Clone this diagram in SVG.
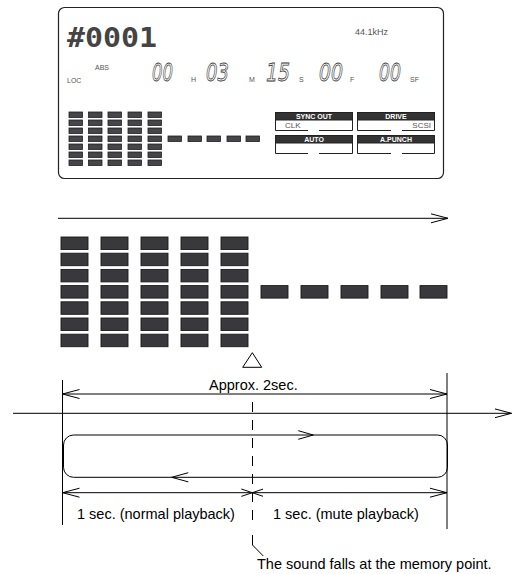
<svg xmlns="http://www.w3.org/2000/svg" xmlns:xlink="http://www.w3.org/1999/xlink" width="517" height="574" viewBox="0 0 517 574">
<style>
.ln{fill:none;stroke:#000;stroke-width:1}
.chev{fill:none;stroke:#000;stroke-width:1}
.lbl{font-family:"Liberation Sans",Arial,sans-serif;font-size:14.5px;fill:#000}
.tiny{font-family:"Liberation Sans",Arial,sans-serif;font-size:7px;fill:#555}
.seg{font-family:"DejaVu Sans",sans-serif;font-style:italic;font-size:25px;fill:none;stroke:#333;stroke-width:0.8}
.hdr{fill:#333;stroke:#222;stroke-width:1}
.hdrt{font-family:"Liberation Sans",Arial,sans-serif;font-size:7px;font-weight:bold;fill:#fff;text-anchor:middle}
.pbox{fill:none;stroke:#222;stroke-width:1}
.ptxt{font-family:"Liberation Sans",Arial,sans-serif;font-size:8px;fill:#555}
</style>
<defs>
<marker id="open" viewBox="0 0 18 12" markerWidth="18" markerHeight="12" refX="17" refY="6" orient="auto-start-reverse" markerUnits="userSpaceOnUse">
<path d="M0,1.5 L17,6 L0,10.5" fill="none" stroke="#000" stroke-width="1"/>
</marker>
<marker id="openS" viewBox="0 0 12 10" markerWidth="12" markerHeight="10" refX="11" refY="5" orient="auto-start-reverse" markerUnits="userSpaceOnUse">
<path d="M0,1.3 L11,5 L0,8.7" fill="none" stroke="#000" stroke-width="1"/>
</marker>
<rect id="sc" width="13.5" height="5.5" fill="#45454a" stroke="#1e1e1e" stroke-width="0.8"/>
<rect id="bc" width="27" height="12.5" fill="#38383d" stroke="#1a1a1a" stroke-width="0.9"/>
<g id="scol">
<use xlink:href="#sc" y="0"/><use xlink:href="#sc" y="8"/><use xlink:href="#sc" y="16"/><use xlink:href="#sc" y="24"/><use xlink:href="#sc" y="32"/><use xlink:href="#sc" y="40"/><use xlink:href="#sc" y="48"/>
</g>
<g id="bcol">
<use xlink:href="#bc" y="0"/><use xlink:href="#bc" y="16.2"/><use xlink:href="#bc" y="32.4"/><use xlink:href="#bc" y="48.6"/><use xlink:href="#bc" y="64.8"/><use xlink:href="#bc" y="81"/><use xlink:href="#bc" y="97.2"/>
</g>
</defs>
<rect width="517" height="574" fill="#fff"/>

<g id="display">
<rect x="58.5" y="7.5" width="385" height="171" rx="6" fill="#fff" stroke="#222" stroke-width="1.2"/>
<text x="67" y="47" font-family="DejaVu Sans Mono,monospace" font-weight="bold" font-size="27" fill="#444" textLength="90" lengthAdjust="spacingAndGlyphs">#0001</text>
<text x="355" y="35" font-family="Liberation Sans,Arial,sans-serif" font-size="9" fill="#555">44.1kHz</text>
<text class="tiny" x="95" y="70">ABS</text>
<text class="tiny" x="67" y="83">LOC</text>
<g id="time-digits" opacity="0.99">
<text class="seg" x="152" y="81" textLength="21" lengthAdjust="spacingAndGlyphs">00</text>
<text class="seg" x="206" y="81" textLength="23" lengthAdjust="spacingAndGlyphs">03</text>
<text class="seg" x="266" y="81" textLength="24" lengthAdjust="spacingAndGlyphs">15</text>
<text class="seg" x="319" y="81" textLength="24" lengthAdjust="spacingAndGlyphs">00</text>
<text class="seg" x="379" y="81" textLength="22" lengthAdjust="spacingAndGlyphs">00</text>
</g>
<text class="tiny" x="191" y="82">H</text>
<text class="tiny" x="249" y="82">M</text>
<text class="tiny" x="299" y="82">S</text>
<text class="tiny" x="350" y="82">F</text>
<text class="tiny" x="410" y="82">SF</text>
<g id="small-meter">
<use xlink:href="#scol" x="69" y="112"/>
<use xlink:href="#scol" x="88.5" y="112"/>
<use xlink:href="#scol" x="108" y="112"/>
<use xlink:href="#scol" x="128" y="112"/>
<use xlink:href="#scol" x="148" y="112"/>
<use xlink:href="#sc" x="168" y="136"/>
<use xlink:href="#sc" x="188" y="136"/>
<use xlink:href="#sc" x="207" y="136"/>
<use xlink:href="#sc" x="227" y="136"/>
<use xlink:href="#sc" x="246" y="136"/>
</g>
<g id="sync-out">
<rect class="hdr" x="275.5" y="112.5" width="77" height="7.5"/>
<text class="hdrt" x="314" y="118.8">SYNC OUT</text>
<path class="pbox" d="M275.5,120 V130.5 H308 M319,130.5 H352.5 V120"/>
<text class="ptxt" x="285" y="127.5">CLK</text>
</g>
<g id="drive">
<rect class="hdr" x="357.5" y="112.5" width="77" height="7.5"/>
<text class="hdrt" x="396" y="118.8">DRIVE</text>
<path class="pbox" d="M357.5,120 V130.5 H391 M402,130.5 H434.5 V120"/>
<text class="ptxt" x="431" y="128" text-anchor="end">SCSI</text>
</g>
<g id="auto">
<rect class="hdr" x="275.5" y="135.5" width="77" height="7.5"/>
<text class="hdrt" x="314" y="141.8">AUTO</text>
<path class="pbox" d="M275.5,143 V153.5 H308 M319,153.5 H352.5 V143"/>
</g>
<g id="apunch">
<rect class="hdr" x="357.5" y="135.5" width="77" height="7.5"/>
<text class="hdrt" x="396" y="141.8">A.PUNCH</text>
<path class="pbox" d="M357.5,143 V153.5 H391 M402,153.5 H434.5 V143"/>
</g>
</g>

<g id="big-meter">
<use xlink:href="#bcol" x="61" y="237"/>
<use xlink:href="#bcol" x="101" y="237"/>
<use xlink:href="#bcol" x="141" y="237"/>
<use xlink:href="#bcol" x="181" y="237"/>
<use xlink:href="#bcol" x="221" y="237"/>
<use xlink:href="#bc" x="261" y="285.6"/>
<use xlink:href="#bc" x="301" y="285.6"/>
<use xlink:href="#bc" x="341" y="285.6"/>
<use xlink:href="#bc" x="381" y="285.6"/>
<use xlink:href="#bc" x="420" y="285.6"/>
</g>

<g id="marker-triangle">
<polygon points="252.3,352.7 242.7,367.3 261.7,367.3" fill="none" stroke="#000" stroke-width="1"/>
</g>

<g id="loop">
<rect x="63.5" y="435" width="384" height="42.3" rx="10" class="ln"/>
<path class="chev" d="M298.3,430.7 L313.3,435 L298.3,439.3"/>
<path class="chev" d="M188.3,472.7 L171.7,477.3 L188.3,481.9"/>
</g>

<g id="labels">
<text class="lbl" x="209" y="389.5">Approx. 2sec.</text>
<text class="lbl" x="77" y="519">1 sec. (normal playback)</text>
<text class="lbl" x="273" y="519">1 sec. (mute playback)</text>
<text class="lbl" x="257" y="569">The sound falls at the memory point.</text>
</g>

<g id="connectors">
<line class="ln" x1="58" y1="218.3" x2="448" y2="218.3" marker-end="url(#open)"/>
<line class="ln" x1="62.5" y1="380" x2="62.5" y2="525"/>
<line class="ln" x1="447" y1="373" x2="447" y2="529"/>
<line class="ln" x1="62.5" y1="394" x2="447" y2="394" marker-start="url(#open)" marker-end="url(#open)"/>
<line class="ln" x1="13" y1="413.3" x2="511.5" y2="413.3" marker-end="url(#open)"/>
<line class="ln" x1="62.5" y1="492.7" x2="252.3" y2="492.7" marker-start="url(#open)" marker-end="url(#openS)"/>
<line class="ln" x1="252.3" y1="492.7" x2="447" y2="492.7" marker-start="url(#openS)" marker-end="url(#open)"/>
<line class="ln" x1="252.5" y1="402" x2="252.5" y2="528" stroke-dasharray="10 8"/>
<path class="ln" d="M252.5,535 V545 L263.3,556"/>
</g>
</svg>
